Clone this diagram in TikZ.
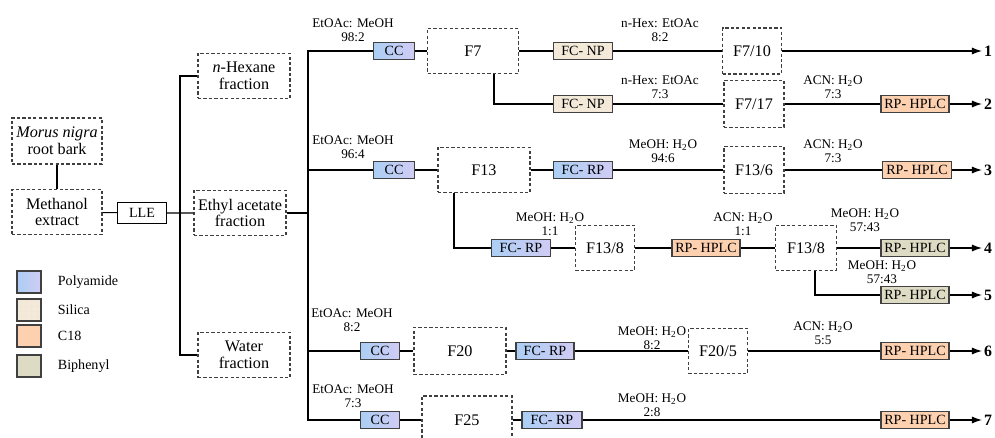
\documentclass[tikz,border=0pt]{standalone}
\usepackage{fontspec}
\setmainfont{Liberation Serif}
\usepackage{tikz}
\usetikzlibrary{arrows.meta, positioning, patterns}

\definecolor{bord}{RGB}{64,64,64}
\definecolor{polyA}{RGB}{172,206,244}
\definecolor{polyB}{RGB}{208,204,244}
\definecolor{silc}{RGB}{243,235,216}
\definecolor{ceight}{RGB}{253,208,176}
\definecolor{biphc}{RGB}{222,219,196}
\newcommand{\hto}{H\textsubscript{2}O}

\begin{document}
\begin{tikzpicture}[
    x=0.2mm, y=-0.2mm,
    frac/.style={draw=black!75, dash pattern=on 1.8pt off 1.3pt, line width=0.6pt,
                 align=center, inner sep=0.5pt, font=\fontsize{9.2}{9.5}\selectfont},
    col/.style={draw=bord, line width=0.8pt, minimum height=3.5mm, inner sep=1pt,
                font=\fontsize{8}{8}\selectfont},
    poly/.style={left color=polyA, right color=polyB},
    sil/.style={preaction={fill=silc}, pattern=grid, pattern color=brown!20},
    cie/.style={fill=ceight},
    biph/.style={fill=biphc},
    cond/.style={align=center, inner sep=0pt, font=\fontsize{7.5}{8}\selectfont},
    num/.style={inner sep=1pt, font=\fontsize{9}{9}\selectfont\bfseries},
    link/.style={line width=0.6pt},
    toend/.style={link, -{Latex[length=2mm, width=1.4mm]}}
  ]
  \useasboundingbox (0,0) rectangle (995,438);

  % extract and partition
  \node[frac, minimum width=18mm, minimum height=9.2mm] (bark) at (57,141) {\textit{Morus nigra}\\root bark};
  \node[frac, minimum width=18mm, minimum height=9mm] (meth) at (57,212) {Methanol\\extract};
  \node[draw, link, minimum width=9.8mm, minimum height=3.6mm,
        font=\fontsize{8}{8}\selectfont] (lle) at (142,213) {LLE};
  \node[frac, minimum width=18.4mm, minimum height=9mm] (hex) at (244,76) {\textit{n}-Hexane\\fraction};
  \node[frac, minimum width=18.4mm, minimum height=9mm] (etac) at (240,213) {Ethyl acetate\\fraction};
  \node[frac, minimum width=18.4mm, minimum height=9mm] (wat) at (244,355) {Water\\fraction};
  \coordinate (t1) at (180,213);
  \coordinate (t2) at (308,213);
  \draw[link] (bark) -- (meth);
  \draw[link] (meth) -- (lle) -- (etac);
  \draw[link] (hex.west) -| (t1) |- (wat.west);
  \draw[link] (etac) -- (t2);

  % compound numbers
  \foreach \r/\y in {1/51, 2/104, 3/170, 4/248, 5/295, 6/351, 7/420} {
    \node[num] (n\r) at (988,\y) {\r};
  }

  % F7
  \node[col, poly, minimum width=8.2mm] (cc1) at (394,51) {CC};
  \node[frac, minimum width=18.2mm, minimum height=9mm] (f7) at (473,51) {F7};
  \node[col, sil, minimum width=11.8mm] (np1) at (583,51) {FC- NP};
  \node[frac, minimum width=11.8mm, minimum height=9.2mm] (f7x10) at (752,51) {F7/10};
  \node[col, sil, minimum width=11.8mm] (np2) at (583,104) {FC- NP};
  \node[frac, minimum width=12mm, minimum height=9.4mm] (f7x17) at (754,104) {F7/17};
  \node[col, cie, minimum width=13.6mm] (hp2) at (915,104) {RP- HPLC};
  \draw[link] (cc1) -- (f7) -- (np1) -- (f7x10);
  \draw[toend] (f7x10) -- (n1);
  \draw[link] ([xshift=4.2mm]f7.south) |- (np2);
  \draw[link] (np2) -- (f7x17) -- (hp2);
  \draw[toend] (hp2) -- (n2);

  % F13
  \node[col, poly, minimum width=8.2mm] (cc3) at (394,170) {CC};
  \node[frac, minimum width=18.4mm, minimum height=9mm] (f13) at (484,170) {F13};
  \node[col, poly, minimum width=11.8mm] (rp3) at (583,170) {FC- RP};
  \node[frac, minimum width=12mm, minimum height=9.4mm] (f13x6) at (754,170) {F13/6};
  \node[col, cie, minimum width=13.8mm] (hp3) at (917,170) {RP- HPLC};
  \draw[link] (cc3) -- (f13) -- (rp3) -- (f13x6) -- (hp3);
  \draw[toend] (hp3) -- (n3);
  \node[col, poly, minimum width=11.8mm] (rp4) at (521,248) {FC- RP};
  \node[frac, minimum width=11.8mm, minimum height=9mm] (f13x8a) at (605,248) {F13/8};
  \node[col, cie, minimum width=13.6mm] (hp4) at (706,248) {RP- HPLC};
  \node[frac, minimum width=12.2mm, minimum height=9mm] (f13x8b) at (806,248) {F13/8};
  \node[col, biph, minimum width=13.6mm] (bp4) at (915,248) {RP- HPLC};
  \node[col, biph, minimum width=13.6mm] (bp5) at (915,295) {RP- HPLC};
  \draw[link] ([xshift=-6mm]f13.south) |- (rp4);
  \draw[link] (rp4) -- (f13x8a) -- (hp4) -- (f13x8b) -- (bp4);
  \draw[toend] (bp4) -- (n4);
  \draw[link] ([xshift=1.8mm]f13x8b.south) |- (bp5);
  \draw[toend] (bp5) -- (n5);

  % F20
  \node[col, poly, minimum width=7.8mm] (cc6) at (380,351) {CC};
  \node[frac, minimum width=18.4mm, minimum height=9.4mm] (f20) at (460,351) {F20};
  \node[col, poly, minimum width=11.6mm] (rp6) at (545,351) {FC- RP};
  \node[frac, minimum width=11.8mm, minimum height=9mm] (f20x5) at (718,351) {F20/5};
  \node[col, cie, minimum width=13.6mm] (hp6) at (915,351) {RP- HPLC};
  \draw[link] (cc6) -- (f20) -- (rp6) -- (f20x5) -- (hp6);
  \draw[toend] (hp6) -- (n6);

  % F25
  \node[col, poly, minimum width=7.8mm] (cc7) at (380,420) {CC};
  \node[frac, minimum width=18mm, minimum height=9.6mm] (f25) at (467,420) {F25};
  \node[col, poly, minimum width=12mm] (rp7) at (552,420) {FC- RP};
  \node[col, cie, minimum width=13.6mm] (hp7) at (915,420) {RP- HPLC};
  \draw[link] (cc7) -- (f25) -- (rp7) -- (hp7);
  \draw[toend] (hp7) -- (n7);

  % trunk to the columns
  \draw[link] (cc1.west) -| (t2) |- (cc7.west);
  \draw[link] (cc3.west) -- (cc3.west -| t2);
  \draw[link] (cc6.west) -- (cc6.west -| t2);

  % eluents
  \foreach \x/\y/\a/\b [count=\k] in {
      353/30/EtOAc: MeOH/98:2, 660/30/n-Hex: EtOAc/8:2,
      660/87/n-Hex: EtOAc/7:3, 833/87/ACN: \hto/7:3,
      353/147/EtOAc: MeOH/96:4, 663/151/MeOH: \hto/94:6, 833/151/ACN: \hto/7:3,
      550/224/MeOH: \hto/1:1, 743/224/ACN: \hto/1:1, 865/220/MeOH: \hto/57:43,
      882/272/MeOH: \hto/57:43,
      352/320/EtOAc: MeOH/8:2, 652/338/MeOH: \hto/8:2, 823/333/ACN: \hto/5:5,
      353/396/EtOAc: MeOH/7:3, 652/405/MeOH: \hto/2:8} {
    \node[cond] (sol\k) at (\x,\y) {\a\\\b};
  }

  % legend
  \foreach \s/\t/\y [count=\k] in {poly/Polyamide/282, sil/Silica/310, cie/C18/336, biph/Biphenyl/366} {
    \node[col, \s, minimum width=4.8mm, minimum height=4.4mm,
          label={[font=\fontsize{8}{8}\selectfont, label distance=2mm]right:\t}] (key\k) at (29,\y) {};
  }
\end{tikzpicture}
\end{document}
